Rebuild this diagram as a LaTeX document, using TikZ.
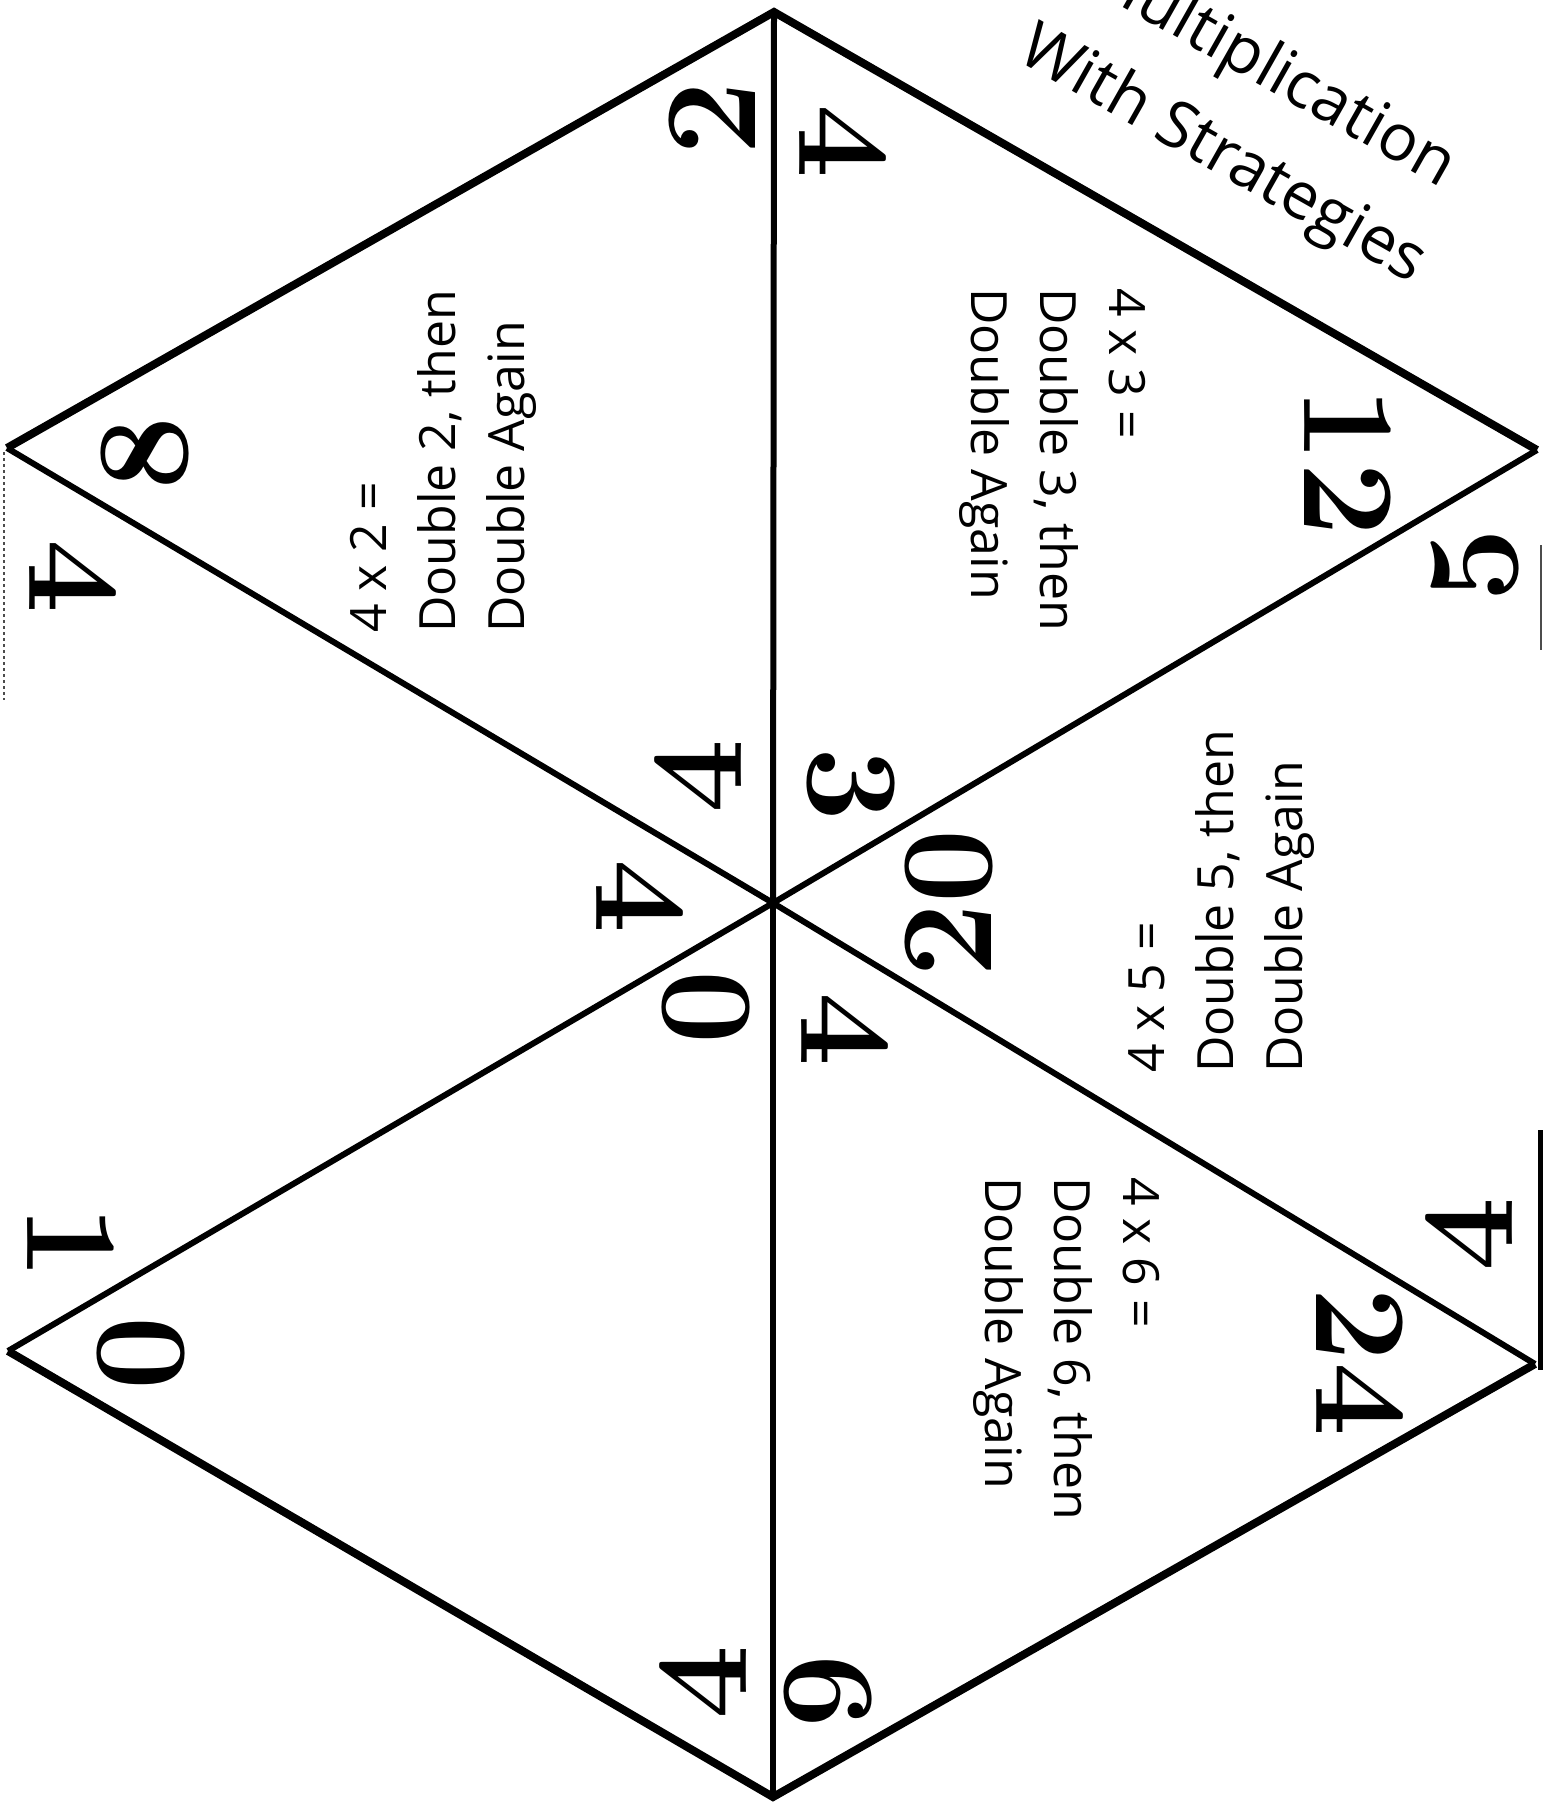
\documentclass[tikz,border=0pt]{standalone}
\usepackage{fontspec}
\newfontfamily\hintfont{Open Sans}
\newfontfamily\titlefont{Open Sans}
\tikzset{
  rim/.style={line width=8pt, line join=miter},
  spoke/.style={line width=6pt},
  cutline/.style={line width=1.5pt, black!70},
  num/.style={font=\fontsize{132}{132}\selectfont\bfseries, inner sep=0pt},
  turnup/.style={rotate=90},
  turndown/.style={rotate=-90},
  hint/.style={font=\hintfont\fontsize{50}{69}\selectfont, align=left, inner sep=0pt, anchor=north west},
  heading/.style={font=\titlefont\fontsize{65}{98}\selectfont, align=center, inner sep=0pt, rotate=-29.5}
}
\begin{document}
\begin{tikzpicture}[x=1pt, y=-1pt]
\useasboundingbox (0,0) rectangle (1546,1809);
\clip (0,0) rectangle (1546,1809);

% corners of the hexagon
\coordinate (top) at (774,12);
\coordinate (ur) at (1537,450);
\coordinate (lr) at (1535,1364);
\coordinate (bot) at (773,1797);
\coordinate (ll) at (8,1351);
\coordinate (ul) at (7,448);
\coordinate (mid) at (773,903);

% upper and lower rims, the sides are cut away
\draw[rim] (ul) -- (top) -- (ur);
\draw[rim] (ll) -- (bot) -- (lr);
\foreach \v in {top,ur,lr,bot,ll,ul}
  \draw[spoke] (mid) -- (\v);

% what is left of the sides at the page edge
\coordinate (cutA) at (4,452);
\coordinate (cutB) at (4,700);
\coordinate (cutC) at (1541,545);
\coordinate (cutD) at (1541,650);
\coordinate (cutE) at (1540,1130);
\coordinate (cutF) at (1540,1370);
\draw[cutline, dashed] (cutA) -- (cutB);
\draw[cutline] (cutC) -- (cutD);
\draw[line width=5pt] (cutE) -- (cutF);

% 4 x 2
\node[num, turnup] (twoA) at (712,118) {2};
\node[num, turnup] (twoB) at (145,453) {8};
\node[num, turnup] (twoC) at (698,776) {4};
\node[hint, turnup] (twoH) at (350,633) {4 x 2 =\\Double 2, then\\Double Again};

% 4 x 3
\node[num, turndown] (threeA) at (843,142) {4};
\node[num, turndown] (threeB) at (1348,462) {12};
\node[num, turndown] (threeC) at (851,785) {3};
\node[hint, turndown] (threeH) at (1146,288) {4 x 3 =\\Double 3, then\\Double Again};

% 4 x 5
\node[num, turnup] (fiveA) at (1475,565) {5};
\node[num, turnup] (fiveB) at (949,903) {20};
\node[num, turnup] (fiveC) at (1469,1234) {4};
\node[hint, turnup] (fiveH) at (1128,1073) {4 x 5 =\\Double 5, then\\Double Again};

% 4 x 6
\node[num, turndown] (sixA) at (1360,1362) {24};
\node[num, turndown] (sixB) at (845,1030) {4};
\node[num, turndown] (sixC) at (828,1692) {6};
\node[hint, turndown] (sixH) at (1160,1177) {4 x 6 =\\Double 6, then\\Double Again};

% 4 x 0
\node[num, turnup] (zeroA) at (703,1682) {4};
\node[num, turnup] (zeroB) at (706,1007) {0};
\node[num, turnup] (zeroC) at (141,1353) {0};

% 4 x 1
\node[num, turndown] (oneA) at (73,577) {4};
\node[num, turndown] (oneB) at (640,897) {4};
\node[num, turndown] (oneC) at (71,1243) {1};

% title along the upper edge
\node[heading] (head) at (1246,114) {Multiplication\\With Strategies};
\end{tikzpicture}
\end{document}
